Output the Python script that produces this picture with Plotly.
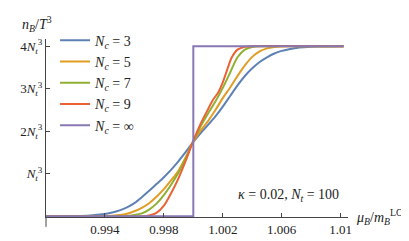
import plotly.graph_objects as go

# ---- data ----
x_nc3 = [0.990, 0.991, 0.992, 0.993, 0.9935, 0.994, 0.9945, 0.995, 0.9955, 0.996, 0.9965, 0.997,
         0.9975, 0.998, 0.9985, 0.999, 0.9995, 1.000, 1.0005, 1.001, 1.0015, 1.002, 1.0025, 1.003,
         1.0035, 1.004, 1.0045, 1.005, 1.0055, 1.006, 1.0065, 1.007, 1.0075, 1.008, 1.009, 1.0102]
y_nc3 = [0.0, 0.003, 0.008, 0.022, 0.038, 0.058, 0.09, 0.14, 0.21, 0.31, 0.45, 0.6,
         0.76, 0.92, 1.1, 1.3, 1.52, 1.75, 1.96, 2.15, 2.35, 2.58, 2.83, 3.08,
         3.3, 3.48, 3.63, 3.74, 3.83, 3.89, 3.93, 3.96, 3.975, 3.985, 3.995, 4.0]

x_nc5 = [0.990, 0.993, 0.994, 0.9945, 0.995, 0.9955, 0.996, 0.9965, 0.997, 0.9975, 0.998, 0.9985,
         0.999, 0.9995, 1.000, 1.0005, 1.001, 1.0015, 1.002, 1.0025, 1.003, 1.0035, 1.004, 1.0045,
         1.005, 1.0055, 1.006, 1.007, 1.0102]
y_nc5 = [0.0, 0.0, 0.005, 0.015, 0.03, 0.06, 0.12, 0.2, 0.31, 0.46, 0.64, 0.85,
         1.08, 1.4, 1.76, 2.02, 2.24, 2.5, 2.78, 3.03, 3.3, 3.55, 3.75, 3.88,
         3.95, 3.98, 3.995, 4.0, 4.0]

x_nc7 = [0.990, 0.995, 0.9955, 0.996, 0.9965, 0.997, 0.9975, 0.998, 0.9985, 0.999, 0.9995, 1.000,
         1.0005, 1.001, 1.0015, 1.002, 1.0025, 1.003, 1.0035, 1.004, 1.0045, 1.0102]
y_nc7 = [0.0, 0.0, 0.01, 0.03, 0.07, 0.16, 0.3, 0.5, 0.75, 1.03, 1.38, 1.77,
         2.12, 2.42, 2.7, 3.02, 3.38, 3.74, 3.92, 3.98, 4.0, 4.0]

x_nc9 = [0.990, 0.9965, 0.997, 0.9975, 0.998, 0.9985, 0.999, 0.9995, 1.000, 1.0005, 1.001, 1.0013,
         1.0017, 1.002, 1.0023, 1.0026, 1.003, 1.0035, 1.004, 1.0102]
y_nc9 = [0.0, 0.0, 0.02, 0.08, 0.25, 0.55, 0.9, 1.32, 1.78, 2.18, 2.52, 2.72,
         2.92, 3.15, 3.45, 3.73, 3.92, 3.99, 4.0, 4.0]

x_inf = [0.990, 1.0, 1.0, 1.0102]
y_inf = [0.0, 0.0, 4.0, 4.0]

names = ["<i>N</i><sub><i>c</i></sub> = 3", "<i>N</i><sub><i>c</i></sub> = 5",
         "<i>N</i><sub><i>c</i></sub> = 7", "<i>N</i><sub><i>c</i></sub> = 9",
         "<i>N</i><sub><i>c</i></sub> = ∞"]
colors = ["#5E81B5", "#E19C24", "#8FB032", "#EB6235", "#8778B3"]

x_ticks = [0.994, 0.998, 1.002, 1.006, 1.01]
x_ticktext = ["0.994", "0.998", "1.002", "1.006", "1.01"]
y_ticks = [1, 2, 3, 4]
y_ticktext = ["<i>N</i><sub><i>t</i></sub><sup>3</sup>",
              "2<i>N</i><sub><i>t</i></sub><sup>3</sup>",
              "3<i>N</i><sub><i>t</i></sub><sup>3</sup>",
              "4<i>N</i><sub><i>t</i></sub><sup>3</sup>"]

FONT = "Liberation Serif"
AX = "#444444"

fig = go.Figure()
series = [(x_nc3, y_nc3), (x_nc5, y_nc5), (x_nc7, y_nc7), (x_nc9, y_nc9)]
for (xs, ys), nm, c in zip(series, names[:4], colors[:4]):
    fig.add_trace(go.Scatter(x=xs, y=ys, mode="lines", name=nm,
                             line=dict(color=c, width=2, shape="spline", smoothing=0.8)))
fig.add_trace(go.Scatter(x=x_inf, y=y_inf, mode="lines", name=names[4],
                         line=dict(color=colors[4], width=2)))

fig.update_layout(
    width=409, height=241,
    margin=dict(l=33, r=69, t=31, b=29),
    paper_bgcolor="white", plot_bgcolor="white",
    font=dict(family=FONT, size=12, color="#222222"),
    showlegend=True,
    legend=dict(x=0.03, y=1.08, xanchor="left", yanchor="top", maxheight=400,
                bgcolor="rgba(0,0,0,0)", font=dict(family=FONT, size=14, color="#222222"),
                tracegroupgap=0),
    xaxis=dict(range=[0.99, 1.0105], showgrid=False, zeroline=False,
               showline=True, linecolor=AX, linewidth=1,
               ticks="inside", ticklen=4, tickcolor=AX,
               tickvals=x_ticks, ticktext=x_ticktext,
               tickfont=dict(family=FONT, size=13)),
    yaxis=dict(range=[-0.015, 4.17], showgrid=False, zeroline=False,
               showline=True, linecolor=AX, linewidth=1,
               ticks="inside", ticklen=4, tickcolor=AX,
               tickvals=y_ticks, ticktext=y_ticktext,
               tickfont=dict(family=FONT, size=13)),
)

# y axis extends slightly below the x axis (Mathematica-style)
fig.add_shape(type="line", xref="paper", yref="paper", x0=0, x1=0, y0=0, y1=-10 / 181,
              line=dict(color=AX, width=1))

fig.add_annotation(xref="paper", yref="paper", x=1.02, y=0.0, xanchor="left", yanchor="middle",
                   text="<i>μ</i><sub><i>B</i></sub>/<i>m</i><sub><i>B</i></sub><sup>LO</sup>",
                   showarrow=False, font=dict(family=FONT, size=14, color="#222222"))
fig.add_annotation(xref="paper", yref="paper", x=-0.085, y=1.15, xanchor="left", yanchor="top",
                   text="<i>n</i><sub><i>B</i></sub>/<i>T</i><sup>3</sup>",
                   showarrow=False, font=dict(family=FONT, size=14, color="#222222"))
fig.add_annotation(xref="paper", yref="paper", x=0.977, y=0.12, xanchor="right", yanchor="middle",
                   text="<i>κ</i> = 0.02, <i>N</i><sub><i>t</i></sub> = 100",
                   showarrow=False, font=dict(family=FONT, size=14, color="#222222"))

fig.write_html("out.html")
